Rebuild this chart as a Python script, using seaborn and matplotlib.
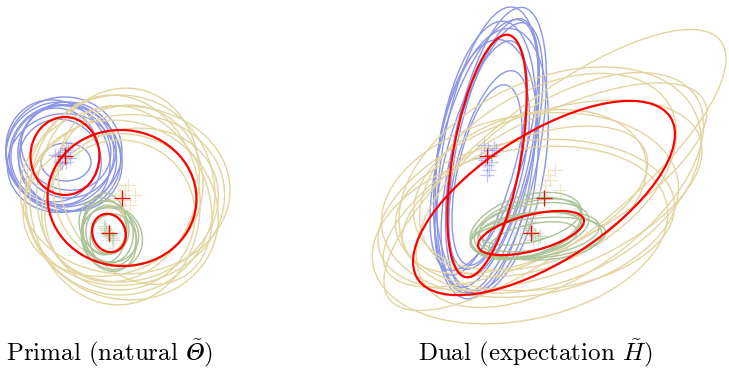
import matplotlib
matplotlib.use("Agg")
import matplotlib.pyplot as plt
from matplotlib.patches import Ellipse
import numpy as np
import pandas as pd
import seaborn as sns

# ellipse components, in picture units (x right, y down); angle = visual ccw degrees
# ---- primal panel ----
p_blue_x = [60, 65, 58, 68, 62, 55, 70, 64, 60, 66, 66]
p_blue_y = [154, 158, 156, 150, 163, 155, 158, 152, 162, 148, 162]
p_blue_w = [108, 112, 100, 96, 110, 88, 100, 116, 82, 92, 50]
p_blue_h = [104, 106, 116, 96, 98, 94, 110, 110, 86, 82, 38]
p_blue_a = [10, -20, 30, 0, 15, -10, 40, 5, 20, -30, 0]

p_tan_x = [120, 125, 118, 130, 115, 128, 122, 135, 110, 125, 120]
p_tan_y = [195, 200, 185, 205, 200, 185, 210, 195, 205, 190, 215]
p_tan_w = [190, 200, 160, 180, 170, 150, 196, 140, 176, 210, 150]
p_tan_h = [200, 170, 196, 150, 210, 160, 176, 190, 140, 168, 150]
p_tan_a = [0, 10, -15, 20, 5, -5, -25, 30, 15, 0, 0]

p_green_x = [108, 110, 105, 112, 106, 109, 104, 113, 108]
p_green_y = [232, 235, 228, 238, 230, 236, 226, 240, 234]
p_green_w = [50, 58, 44, 60, 40, 54, 48, 46, 34]
p_green_h = [62, 54, 70, 64, 50, 72, 58, 52, 40]
p_green_a = [10, -20, 0, 30, -10, 15, 25, 0, 10]

p_red_x = [65, 122, 109]
p_red_y = [156, 198, 233]
p_red_w = [69, 149, 33]
p_red_h = [78, 136, 39]
p_red_a = [0, -5, 20]

# ---- dual panel ----
d_blue_x = [488, 492, 485, 494, 487, 481, 496, 489, 484, 491, 487]
d_blue_y = [150, 155, 160, 148, 165, 158, 150, 170, 145, 162, 175]
d_blue_w = [90, 80, 96, 74, 100, 70, 86, 66, 84, 108, 60]
d_blue_h = [290, 272, 280, 264, 252, 242, 290, 204, 260, 270, 184]
d_blue_a = [-10, -14, -8, -12, -6, -15, -11, -14, -16, -9, -12]

d_tan_x = [555, 540, 530, 545, 535, 550, 525, 560, 520, 548, 530]
d_tan_y = [170, 195, 205, 185, 215, 180, 200, 190, 235, 175, 190]
d_tan_w = [420, 340, 300, 360, 280, 320, 260, 330, 300, 280, 240]
d_tan_h = [140, 160, 180, 130, 150, 200, 120, 170, 170, 170, 150]
d_tan_a = [38, 20, 10, 28, 5, 25, 22, 35, 12, 30, 18]

d_green_x = [530, 535, 528, 538, 532, 526, 540, 533, 530]
d_green_y = [230, 235, 228, 238, 232, 226, 236, 240, 222]
d_green_w = [120, 130, 110, 136, 100, 116, 124, 90, 104]
d_green_h = [50, 44, 56, 40, 36, 60, 48, 32, 40]
d_green_a = [12, 8, 15, 5, 10, 18, 2, 12, 14]

d_red_x = [487, 544, 531]
d_red_y = [156, 198, 233]
d_red_w = [68, 300, 109]
d_red_h = [246, 128, 36]
d_red_a = [-10, 32.6, 14.4]

# italic capital theta (U+1D6E9) as in the LaTeX original
titles = ["Primal (natural $\\tilde{\U0001D6E9}$)", r"Dual (expectation $\tilde{H}$)"]
title_x = [110, 535]

colors = {"blue": "#8c96e6", "tan": "#e3d5a0", "green": "#abc396", "red": "#ff0000"}

groups = [
    ("blue", p_blue_x, p_blue_y, p_blue_w, p_blue_h, p_blue_a),
    ("tan", p_tan_x, p_tan_y, p_tan_w, p_tan_h, p_tan_a),
    ("green", p_green_x, p_green_y, p_green_w, p_green_h, p_green_a),
    ("blue", d_blue_x, d_blue_y, d_blue_w, d_blue_h, d_blue_a),
    ("tan", d_tan_x, d_tan_y, d_tan_w, d_tan_h, d_tan_a),
    ("green", d_green_x, d_green_y, d_green_w, d_green_h, d_green_a),
    ("red", p_red_x, p_red_y, p_red_w, p_red_h, p_red_a),
    ("red", d_red_x, d_red_y, d_red_w, d_red_h, d_red_a),
]

sns.set_theme(style="white")
plt.rcParams["mathtext.fontset"] = "cm"

fig = plt.figure(figsize=(7.29, 3.70), dpi=100)
ax = fig.add_axes([0, 0, 1, 1])

rows = []
for name, xs, ys, ws, hs, angs in groups:
    lw = 1.6 if name == "red" else 1.0
    z = 5 if name == "red" else 2
    for x, y, w, h, a in zip(xs, ys, ws, hs, angs):
        # y axis is inverted, so negate the angle to keep it visually ccw
        ax.add_patch(Ellipse((x, y), w, h, angle=-a, fill=False,
                             edgecolor=colors[name], linewidth=lw, zorder=z))
        rows.append({"x": x, "y": y, "comp": name})

centers = pd.DataFrame(rows)
light = centers[centers["comp"] != "red"]
sns.scatterplot(data=light, x="x", y="y", hue="comp", palette=colors,
                marker="+", s=110, linewidth=0.9, alpha=0.55, legend=False,
                ax=ax, zorder=3)
sns.scatterplot(data=centers[centers["comp"] == "red"], x="x", y="y",
                color=colors["red"], marker="+", s=130, linewidth=0.9,
                legend=False, ax=ax, zorder=6)
ax.set_xlim(0, 729)
ax.set_ylim(370, 0)
ax.axis("off")

for t, tx in zip(titles, title_x):
    ax.text(tx, 353, t, ha="center", va="center", fontsize=18,
            fontfamily="cmr10", color="black")

fig.savefig("out.png", dpi=100)
